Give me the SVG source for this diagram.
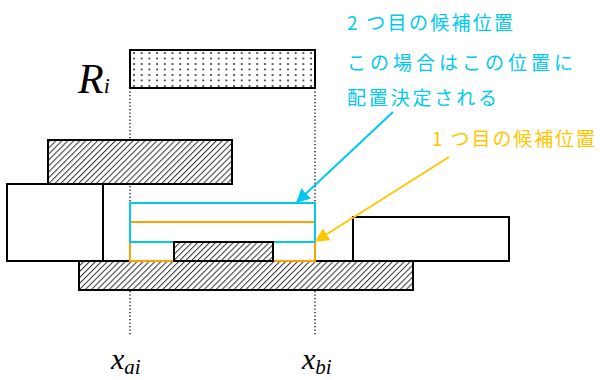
<svg xmlns="http://www.w3.org/2000/svg" width="600" height="380" viewBox="0 0 600 380">
<style>
.box{fill:#fff;stroke:#000;stroke-width:2}
.hat{fill:url(#hatch);stroke:#000;stroke-width:2}
.dot{stroke:#000;stroke-width:1.3;stroke-dasharray:1.3 2.2;fill:none}
.cy{fill:none;stroke:#00C8F0;stroke-width:2}
.or{fill:none;stroke:#FF9F00;stroke-width:2}
.cjk{font-family:"Noto Sans CJK JP","Noto Sans",sans-serif;font-size:19px}
.tm{font-family:"Liberation Serif",serif;font-style:italic;fill:#000}
</style>
<defs>
<pattern id="hatch" width="4.2" height="4.2" patternUnits="userSpaceOnUse" patternTransform="rotate(45)">
<rect width="4.2" height="4.2" fill="#fff"/>
<line x1="0" y1="0" x2="0" y2="4.2" stroke="#333" stroke-width="2"/>
</pattern>
<pattern id="dots" width="7.7" height="5.5" patternUnits="userSpaceOnUse" x="133" y="52">
<rect width="7.7" height="5.5" fill="#fff"/>
<rect x="0.2" y="0.2" width="1.6" height="1.6" fill="#111"/>
</pattern>
<marker id="ac" viewBox="0 0 10 10" refX="9" refY="5" markerWidth="7" markerHeight="7" orient="auto" markerUnits="strokeWidth">
<path d="M0,0 L10,5 L0,10 z" fill="#00C8F0"/>
</marker>
<marker id="ay" viewBox="0 0 10 10" refX="9" refY="5" markerWidth="7" markerHeight="7" orient="auto" markerUnits="strokeWidth">
<path d="M0,0 L10,5 L0,10 z" fill="#FFC600"/>
</marker>
</defs>
<g id="guides">
<line class="dot" x1="130" y1="88" x2="130" y2="336"/>
<line class="dot" x1="315" y1="88" x2="315" y2="336"/>
</g>
<g id="Ri">
<rect x="130" y="50" width="185" height="38" fill="url(#dots)" stroke="#000" stroke-width="2"/>
<text class="tm" x="78" y="93" font-size="42">R<tspan font-size="22">i</tspan></text>
</g>
<g id="hatchTop"><rect class="hat" x="48" y="140" width="184" height="44"/></g>
<g id="boxLeft"><rect class="box" x="7" y="184" width="96" height="77"/></g>
<g id="hatchBottom"><rect class="hat" x="79" y="261" width="334" height="29"/></g>
<g id="boxRight"><rect class="box" x="353" y="217" width="156" height="44"/></g>
<g id="cand1">
<rect class="or" x="130" y="222" width="185" height="39"/>
</g>
<g id="cand2">
<rect class="cy" x="130" y="203" width="185" height="39"/>
</g>
<g id="hatchSmall"><rect class="hat" x="174" y="242" width="99" height="19"/></g>
<g id="connectors">
<line x1="393" y1="112" x2="297" y2="202" stroke="#00C8F0" stroke-width="2" marker-end="url(#ac)"/>
<line x1="449" y1="157" x2="316" y2="241" stroke="#FFC600" stroke-width="2" marker-end="url(#ay)"/>
</g>
<g id="labels">
<text class="cjk" fill="#00C8F0" x="347" y="30" textLength="166" lengthAdjust="spacing">2 つ目の候補位置</text>
<text class="cjk" fill="#00C8F0" x="347" y="70" textLength="226" lengthAdjust="spacing">この場合はこの位置に</text>
<text class="cjk" fill="#00C8F0" x="347" y="105" textLength="150" lengthAdjust="spacing">配置決定される</text>
<text class="cjk" fill="#FFC600" x="432" y="146" font-size="17" textLength="163" lengthAdjust="spacing">1 つ目の候補位置</text>
<text class="tm" x="111" y="369" font-size="30">x<tspan font-size="21" dy="5">ai</tspan></text>
<text class="tm" x="302" y="369" font-size="30">x<tspan font-size="21" dy="5">bi</tspan></text>
</g>
</svg>
